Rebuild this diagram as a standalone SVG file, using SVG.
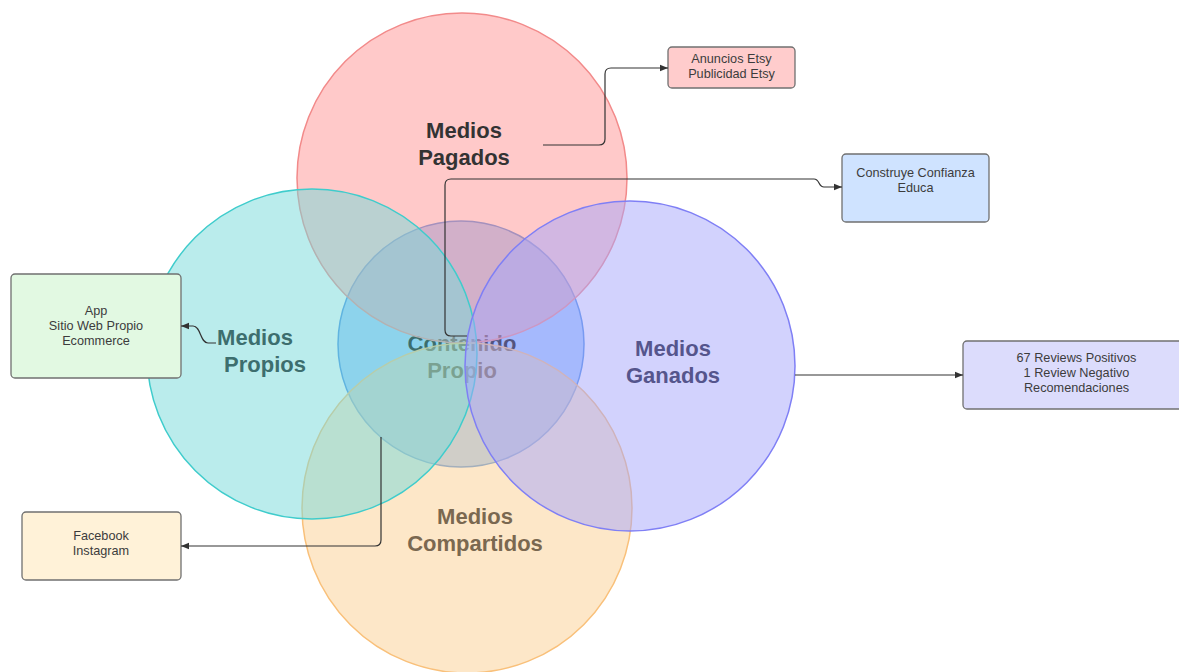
<svg xmlns="http://www.w3.org/2000/svg" width="1179" height="672" viewBox="0 0 1179 672">
<style>
  .circ { fill-opacity: 0.5; stroke-width: 1.5; }
  .lbl { font-family: "Liberation Sans", Arial, sans-serif; font-weight: bold; font-size: 22px; text-anchor: middle; }
  .box { stroke: #707070; stroke-width: 1.3; }
  .bt { font-family: "Liberation Sans", Arial, sans-serif; font-size: 12.7px; fill: #3c3c3c; text-anchor: middle; }
  .con { fill: none; stroke: #333333; stroke-width: 1.2; marker-end: url(#arr); }
</style>
<defs>
  <marker id="arr" viewBox="0 0 10 10" refX="10" refY="5" markerWidth="10" markerHeight="8" markerUnits="userSpaceOnUse" orient="auto">
    <path d="M0,1 L10,5 L0,9 Z" fill="#333333"/>
  </marker>
</defs>
<rect x="0" y="0" width="1179" height="672" fill="#ffffff"/>

<g id="contenido">
  <circle class="circ" cx="461" cy="344" r="123" fill="#4c9bff" stroke="#4a8ee6"/>
  <text class="lbl" x="462" y="351" fill="#000000">Contenido</text>
  <text class="lbl" x="462" y="378" fill="#000000">Propio</text>
</g>
<g id="pagados">
  <circle class="circ" cx="462" cy="178" r="165" fill="#ff9393" stroke="#f28a8a"/>
  <text class="lbl" x="464" y="138" fill="#333333">Medios</text>
  <text class="lbl" x="464" y="165" fill="#333333">Pagados</text>
</g>
<g id="compartidos">
  <circle class="circ" cx="467" cy="508" r="165" fill="#fbcf91" stroke="#f9c07a"/>
  <text class="lbl" x="475" y="524" fill="#7a6850">Medios</text>
  <text class="lbl" x="475" y="551" fill="#7a6850">Compartidos</text>
</g>
<g id="propios">
  <circle class="circ" cx="312" cy="354" r="165" fill="#75d9d9" stroke="#3fcccc"/>
  <text class="lbl" x="255" y="345" fill="#3d6e6e">Medios</text>
  <text class="lbl" x="265" y="372" fill="#3d6e6e">Propios</text>
</g>
<g id="ganados">
  <circle class="circ" cx="630" cy="366" r="165" fill="#a5a5fb" stroke="#7f7ff5"/>
  <text class="lbl" x="673" y="356" fill="#55558c">Medios</text>
  <text class="lbl" x="673" y="383" fill="#55558c">Ganados</text>
</g>

<g id="box-anuncios">
  <rect class="box" x="668" y="47" width="127" height="41" rx="4" fill="#ffcccc"/>
  <text class="bt" x="731.5" y="63">Anuncios Etsy</text>
  <text class="bt" x="731.5" y="78">Publicidad Etsy</text>
</g>
<g id="box-confianza">
  <rect class="box" x="842" y="154" width="147" height="68" rx="4" fill="#cfe3ff"/>
  <text class="bt" x="915.5" y="177">Construye Confianza</text>
  <text class="bt" x="915.5" y="192">Educa</text>
</g>
<g id="box-app">
  <rect class="box" x="11" y="274" width="170" height="104" rx="4" fill="#e2f9e2"/>
  <text class="bt" x="96" y="315">App</text>
  <text class="bt" x="96" y="330">Sitio Web Propio</text>
  <text class="bt" x="96" y="345">Ecommerce</text>
</g>
<g id="box-social">
  <rect class="box" x="22" y="512" width="159" height="68" rx="4" fill="#fff2d8"/>
  <text class="bt" x="101" y="540">Facebook</text>
  <text class="bt" x="101" y="555">Instagram</text>
</g>
<g id="box-reviews">
  <rect class="box" x="963" y="341" width="227" height="68" rx="4" fill="#dcdcfc"/>
  <text class="bt" x="1076.5" y="362">67 Reviews Positivos</text>
  <text class="bt" x="1076.5" y="377">1 Review Negativo</text>
  <text class="bt" x="1076.5" y="392">Recomendaciones</text>
</g>

<g id="connectors">
  <path class="con" d="M543,145 L599,145 Q605,145 605,139 L605,74 Q605,68 611,68 L668,68"/>
  <path class="con" d="M467,336 L451,336 Q445,336 445,330 L445,185 Q445,179 451,179 L814,179 C820,179 818,187 824,187 L842,187"/>
  <path class="con" d="M216,343 L208,343 C200,343 201,326 193,326 L181,326"/>
  <path class="con" d="M381,437 L381,540 Q381,546 375,546 L181,546"/>
  <path class="con" d="M795,375 L963,375"/>
</g>
</svg>
